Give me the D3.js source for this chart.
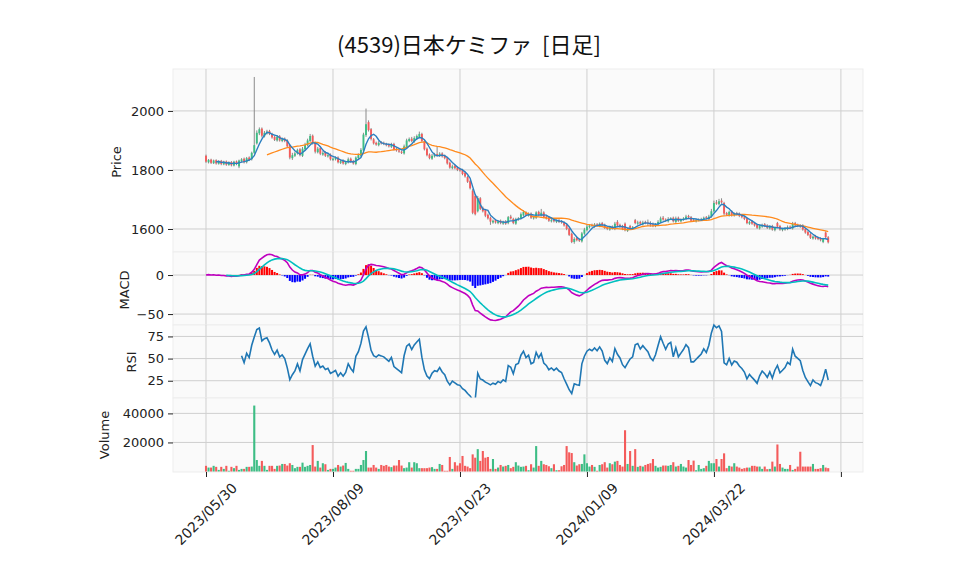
<!DOCTYPE html>
<html>
<head>
<meta charset="utf-8">
<script src="https://cdn.jsdelivr.net/npm/d3@7"></script>
<style>
body { margin: 0; background: #fff; }
text { font-family: "DejaVu Sans", sans-serif; }
</style>
</head>
<body>
<div id="chart"></div>
<script>
var title = "(4539)日本ケミファ  [日足]"
var tickIdx = [0, 50, 100, 150, 200, 250]
var tickLabels = ["2023/05/30", "2023/08/09", "2023/10/23", "2024/01/09", "2024/03/22", ""]

var opens = [
 1848,1826,1835,1823,1833,1821,1831,1819,1829,1817,
 1827,1815,1829,1812,1830,1838,1826,1842,1836,1858,
 1890,1924,1940,1914,1924,1932,1922,1912,1900,1914,
 1898,1906,1900,1884,1840,1848,1856,1870,1848,1870,
 1884,1898,1916,1892,1860,1874,1852,1860,1846,1852,
 1834,1836,1842,1824,1832,1820,1826,1838,1830,1820,
 1840,1848,1866,1918,1962,1938,1904,1892,1884,1894,
 1892,1888,1884,1878,1888,1870,1866,1862,1856,1878,
 1898,1906,1896,1906,1912,1922,1898,1872,1852,1838,
 1846,1854,1848,1856,1848,1840,1824,1806,1814,1808,
 1802,1800,1790,1776,1762,1730,1712,1660,1704,1672,
 1664,1648,1638,1622,1630,1620,1628,1618,1626,1620,
 1642,1634,1618,1632,1636,1646,1656,1646,1652,1636,
 1638,1658,1646,1656,1642,1638,1626,1632,1624,1630,
 1626,1622,1614,1602,1584,1556,1570,1564,1558,1584,
 1596,1606,1614,1608,1616,1610,1620,1614,1606,1598,
 1608,1600,1624,1614,1610,1618,1594,1610,1602,1630,
 1618,1624,1616,1624,1622,1620,1616,1610,1616,1624,
 1638,1632,1626,1634,1638,1624,1638,1626,1632,1634,
 1644,1640,1630,1626,1630,1632,1634,1640,1634,1642,
 1660,1690,1684,1696,1688,1654,1646,1660,1646,1654,
 1652,1646,1640,1636,1618,1626,1620,1614,1602,1608,
 1616,1612,1602,1610,1596,1620,1610,1596,1598,1600,
 1608,1602,1620,1614,1612,1612,1600,1590,1582,1568,
 1576,1570,1568,1556,1588,1572]

var highs = [
 1852,1837,1838,1835,1836,1833,1834,1831,1832,1829,
 1830,1831,1832,1835,1840,1842,1844,1846,1862,2115,
 1934,1944,1944,1932,1936,1936,1926,1916,1918,1918,
 1910,1910,1904,1888,1858,1862,1872,1874,1878,1892,
 1906,1922,1920,1896,1878,1878,1864,1864,1856,1856,
 1842,1846,1846,1834,1836,1830,1842,1842,1834,1846,
 1856,1874,1926,2008,1968,1942,1908,1896,1898,1898,
 1896,1892,1890,1892,1892,1876,1872,1866,1886,1906,
 1910,1912,1914,1920,1930,1926,1902,1876,1856,1854,
 1858,1880,1860,1860,1852,1844,1828,1818,1818,1812,
 1806,1804,1794,1780,1766,1736,1718,1712,1708,1676,
 1668,1652,1642,1632,1634,1630,1632,1628,1630,1644,
 1648,1638,1638,1640,1656,1664,1660,1656,1656,1644,
 1660,1662,1668,1660,1646,1642,1634,1636,1632,1634,
 1630,1626,1618,1606,1588,1572,1574,1568,1590,1604,
 1614,1616,1618,1620,1620,1622,1624,1618,1610,1610,
 1612,1624,1630,1618,1614,1622,1604,1614,1610,1634,
 1628,1628,1628,1628,1632,1626,1622,1620,1630,1642,
 1644,1636,1640,1640,1642,1642,1642,1636,1640,1648,
 1648,1644,1634,1634,1636,1638,1642,1644,1648,1668,
 1696,1698,1702,1704,1692,1658,1662,1664,1656,1658,
 1656,1650,1644,1640,1628,1630,1624,1618,1614,1618,
 1620,1616,1612,1614,1608,1624,1614,1604,1606,1612,
 1612,1624,1624,1618,1616,1616,1604,1594,1586,1578,
 1580,1574,1572,1570,1592,1576]

var lows = [
 1824,1822,1820,1820,1818,1818,1816,1816,1814,1814,
 1812,1812,1816,1806,1826,1822,1822,1830,1832,1854,
 1886,1918,1910,1910,1920,1918,1906,1898,1896,1896,
 1894,1894,1876,1836,1834,1844,1852,1846,1844,1866,
 1880,1894,1886,1856,1856,1850,1848,1844,1842,1832,
 1830,1832,1822,1820,1818,1816,1822,1824,1818,1816,
 1836,1844,1860,1912,1930,1900,1886,1882,1880,1886,
 1884,1880,1876,1874,1866,1862,1858,1854,1852,1874,
 1894,1894,1892,1902,1908,1894,1866,1846,1836,1834,
 1842,1846,1844,1842,1836,1818,1804,1802,1802,1796,
 1794,1782,1774,1756,1734,1650,1646,1656,1664,1656,
 1640,1632,1614,1618,1618,1616,1616,1614,1614,1616,
 1632,1616,1614,1628,1632,1642,1644,1642,1634,1632,
 1634,1644,1642,1636,1632,1624,1622,1622,1620,1620,
 1618,1608,1596,1576,1552,1550,1558,1556,1554,1580,
 1592,1602,1606,1604,1608,1606,1610,1600,1596,1594,
 1598,1596,1608,1604,1596,1592,1590,1600,1598,1616,
 1614,1614,1612,1616,1610,1608,1606,1606,1612,1620,
 1628,1624,1622,1630,1622,1620,1624,1622,1628,1630,
 1636,1624,1624,1622,1626,1628,1630,1632,1630,1638,
 1656,1682,1680,1686,1646,1644,1642,1642,1642,1646,
 1640,1636,1630,1616,1614,1614,1608,1600,1598,1604,
 1606,1600,1598,1594,1592,1604,1594,1592,1594,1596,
 1600,1598,1608,1606,1604,1594,1584,1576,1566,1564,
 1564,1562,1558,1552,1568,1551]

var closes = [
 1828,1834,1824,1832,1822,1830,1820,1828,1818,1826,
 1816,1828,1820,1832,1836,1826,1840,1834,1858,1884,
 1926,1938,1916,1926,1930,1922,1910,1902,1912,1900,
 1904,1898,1880,1842,1850,1856,1868,1850,1872,1885,
 1900,1915,1890,1862,1872,1855,1858,1848,1850,1836,
 1838,1840,1826,1830,1822,1826,1836,1828,1822,1842,
 1850,1868,1920,1955,1935,1905,1890,1886,1892,1890,
 1888,1884,1880,1886,1870,1866,1862,1858,1880,1900,
 1905,1898,1908,1915,1922,1898,1870,1850,1840,1848,
 1852,1850,1855,1846,1840,1822,1808,1812,1806,1800,
 1798,1786,1778,1760,1738,1655,1650,1705,1668,1660,
 1645,1636,1625,1628,1622,1626,1620,1624,1618,1640,
 1636,1620,1634,1636,1650,1658,1648,1652,1638,1640,
 1656,1648,1655,1640,1636,1628,1630,1626,1628,1624,
 1622,1612,1600,1580,1556,1566,1562,1560,1585,1598,
 1608,1612,1610,1615,1612,1618,1614,1604,1600,1606,
 1602,1618,1612,1608,1600,1596,1600,1604,1606,1620,
 1622,1618,1622,1620,1618,1614,1612,1616,1624,1636,
 1632,1628,1634,1636,1626,1636,1628,1632,1636,1642,
 1640,1628,1628,1630,1632,1634,1638,1636,1642,1660,
 1688,1686,1694,1690,1652,1648,1658,1646,1652,1650,
 1644,1640,1634,1620,1624,1618,1612,1604,1610,1614,
 1610,1604,1608,1598,1604,1608,1598,1600,1602,1606,
 1604,1618,1612,1610,1608,1598,1588,1580,1570,1574,
 1568,1566,1562,1566,1572,1555]

var volumes = [
 3900,2700,2700,3900,3200,1100,3200,1800,3900,500,
 3200,2300,3900,1100,1800,1800,3200,3200,3400,45400,
 7900,3900,7300,3900,1100,3900,3900,1800,3900,4100,
 5200,5200,4100,5700,4500,2300,3200,3200,6100,3200,
 3900,4500,18200,3400,7300,2700,5700,5000,1100,1800,
 1800,2700,4500,3400,4100,5900,1800,500,500,1800,
 1800,4500,7900,14100,2700,2700,4500,2700,1800,4500,
 3900,4500,3400,3000,4100,4100,7900,4100,2300,2700,
 6400,2700,6400,5700,2300,2300,2300,2300,2700,3000,
 1800,1800,5200,4500,500,500,10000,1800,6400,4100,
 5700,10700,3900,3400,2300,11800,9500,15400,7300,14100,
 9500,10000,1800,8600,1800,2700,4500,3400,3900,4500,
 2300,3200,6400,4100,3200,3400,3900,900,5000,2700,
 17500,3900,7300,5000,4500,3600,2300,5000,900,900,
 3600,4500,17500,13200,12700,6400,4100,5000,5200,11800,
 5700,3400,4500,3200,500,4500,5000,6400,2700,5700,
 5000,6800,7300,4500,3400,28400,5200,14100,3900,15400,
 3200,3900,3400,4500,5200,5700,8600,3900,2700,3200,
 4100,4100,3900,4500,6400,3400,3900,5200,3400,2700,
 7900,4500,7500,900,4500,1800,2300,3900,7300,5700,
 5700,8600,3400,8600,12500,2300,3900,3400,5700,3400,
 2700,1800,2300,2700,2700,3900,3900,3400,3400,1800,
 3400,1600,1800,6800,3400,18600,5200,2700,1800,1800,
 4500,1100,1800,3400,13600,3400,3400,3400,3400,5200,
 1800,1800,2300,4500,2700,2300]

// indicators, derived from the closes like the original chart does
function sma(arr, n) {
    return arr.map(function(v, i) { return i < n - 1 ? null : d3.mean(arr.slice(i - n + 1, i + 1)) })
}
function ema(arr, n) {
    var k = 2 / (n + 1), out = []
    arr.forEach(function(v, i) { out.push(i == 0 ? v : v * k + out[i - 1] * (1 - k)) })
    return out
}
// rsi: mean of the first n moves, then exponential smoothing (span n)
function rsi(arr, n) {
    var out = arr.map(function() { return null })
    var a = 2 / (n + 1), g = 0, l = 0
    for (var j = 1; j <= n; j++) {
        var d = arr[j] - arr[j - 1]
        if (d > 0) g += d; else l -= d
    }
    g /= n; l /= n
    out[n] = 100 * g / (g + l)
    for (var i = n + 1; i < arr.length; i++) {
        var d = arr[i] - arr[i - 1]
        g = (1 - a) * g + a * Math.max(d, 0)
        l = (1 - a) * l + a * Math.max(-d, 0)
        out[i] = 100 * g / (g + l)
    }
    return out
}

var ma5 = sma(closes, 5)
var ma25 = sma(closes, 25)
var e12 = ema(closes, 12), e26 = ema(closes, 26)
var macd = closes.map(function(c, i) { return e12[i] - e26[i] })
var sig = ema(macd, 9).map(function(v, i) { return i < 8 ? null : v })
var hist = macd.map(function(v, i) { return i < 8 ? null : v - sig[i] })
var rsi14 = rsi(closes, 14)

var width = 958, height = 575
var left = 173, right = 863
var upColor = "#3dbd85", downColor = "#f45b5b"

var svg = d3.select("#chart").append("svg").attr("width", width).attr("height", height)

var x = d3.scaleLinear().domain([-13, 258.7]).range([left, right])

var panels = [
    {name: "price", top: 69, bottom: 252, y: d3.scaleLinear().domain([1522, 2142]).range([252, 69]),
     ticks: [1600, 1800, 2000], label: "Price", lx: 116, ly: 162},
    {name: "macd", top: 252, bottom: 325, y: d3.scaleLinear().domain([-64, 29.5]).range([325, 252]),
     ticks: [-50, 0], label: "MACD", lx: 124, ly: 290},
    {name: "rsi", top: 325, bottom: 398, y: d3.scaleLinear().domain([5.5, 87.9]).range([398, 325]),
     ticks: [25, 50, 75], label: "RSI", lx: 131, ly: 362},
    {name: "vol", top: 398, bottom: 472, y: d3.scaleLinear().domain([0, 50600]).range([471.5, 398]),
     ticks: [20000, 40000], label: "Volume", lx: 104, ly: 435}
]

svg.append("text")
    .attr("x", 469).attr("y", 53)
    .attr("text-anchor", "middle")
    .style("font-family", '"Noto Sans CJK JP", sans-serif')
    .style("font-size", "22px")
    .style("white-space", "pre")
    .style("fill", "#111")
    .text(title)

panels.forEach(function(p) {
    var g = svg.append("g").attr("class", p.name)
    g.append("rect")
        .attr("x", left).attr("y", p.top)
        .attr("width", right - left).attr("height", p.bottom - p.top)
        .attr("fill", "#fafafa").attr("stroke", "#ededed").attr("stroke-width", 1)

    // grid
    g.selectAll("line.hgrid").data(p.ticks).enter().append("line")
        .attr("x1", left).attr("x2", right)
        .attr("y1", function(d) { return p.y(d) }).attr("y2", function(d) { return p.y(d) })
        .attr("stroke", "#cfcfcf").attr("stroke-width", 1)
    g.selectAll("line.vgrid").data(tickIdx).enter().append("line")
        .attr("x1", function(d) { return x(d) }).attr("x2", function(d) { return x(d) })
        .attr("y1", p.top).attr("y2", p.bottom)
        .attr("stroke", "#cfcfcf").attr("stroke-width", 1)

    var axis = d3.axisLeft(p.y).tickValues(p.ticks).tickSize(5).tickPadding(4)
    if (p.name != "macd") axis.tickFormat(d3.format("d"))
    var ax = g.append("g").attr("transform", "translate(" + left + ",0)").call(axis)
    ax.select(".domain").remove()
    ax.selectAll("text").style("font-size", "13px").style("fill", "#222")
    ax.selectAll("line").attr("stroke", "#222")

    g.append("text")
        .attr("transform", "translate(" + p.lx + "," + p.ly + ") rotate(-90)")
        .attr("text-anchor", "middle").attr("dy", "0.35em")
        .style("font-size", "13px").style("fill", "#222")
        .text(p.label)
})

var idx = d3.range(closes.length)

// price panel
var py = panels[0].y
var pg = svg.select("g.price")
pg.selectAll("line.wick").data(idx).enter().append("line")
    .attr("x1", function(i) { return x(i) }).attr("x2", function(i) { return x(i) })
    .attr("y1", function(i) { return py(highs[i]) }).attr("y2", function(i) { return py(lows[i]) })
    .attr("stroke", "#8a8a8a").attr("stroke-width", 1)
pg.selectAll("rect.body").data(idx).enter().append("rect")
    .attr("x", function(i) { return x(i) - 0.95 }).attr("width", 1.9)
    .attr("y", function(i) { return py(Math.max(opens[i], closes[i])) })
    .attr("height", function(i) { return Math.max(0.8, Math.abs(py(opens[i]) - py(closes[i]))) })
    .attr("fill", function(i) { return closes[i] >= opens[i] ? upColor : downColor })

var line = function(ys) {
    return d3.line()
        .defined(function(d) { return d != null })
        .x(function(d, i) { return x(i) })
        .y(function(d) { return ys(d) })
}
pg.append("path").datum(ma25).attr("d", line(py))
    .attr("fill", "none").attr("stroke", "#ff8a1c").attr("stroke-width", 1.3)
pg.append("path").datum(ma5).attr("d", line(py))
    .attr("fill", "none").attr("stroke", "#2b7fc0").attr("stroke-width", 1.4)

// macd panel
var my = panels[1].y
var mg = svg.select("g.macd")
mg.selectAll("rect.hist").data(idx.filter(function(i) { return hist[i] != null })).enter().append("rect")
    .attr("x", function(i) { return x(i) - 1 }).attr("width", 2)
    .attr("y", function(i) { return my(Math.max(0, hist[i])) })
    .attr("height", function(i) { return Math.abs(my(hist[i]) - my(0)) })
    .attr("fill", function(i) { return hist[i] >= 0 ? "#ff0000" : "#0000ff" })
mg.append("path").datum(macd).attr("d", line(my))
    .attr("fill", "none").attr("stroke", "#bf00bf").attr("stroke-width", 1.6)
mg.append("path").datum(sig).attr("d", line(my))
    .attr("fill", "none").attr("stroke", "#00bfbf").attr("stroke-width", 1.6)

// rsi panel
var ry = panels[2].y
svg.select("g.rsi").append("path").datum(rsi14).attr("d", line(ry))
    .attr("fill", "none").attr("stroke", "#1f77b4").attr("stroke-width", 1.6)

// volume panel
var vy = panels[3].y
svg.select("g.vol").selectAll("rect.vbar").data(idx).enter().append("rect")
    .attr("x", function(i) { return x(i) - 1.05 }).attr("width", 2.1)
    .attr("y", function(i) { return vy(volumes[i]) })
    .attr("height", function(i) { return vy(0) - vy(volumes[i]) })
    .attr("fill", function(i) { return closes[i] >= opens[i] ? upColor : downColor })

// x axis
var xa = svg.append("g").attr("transform", "translate(0,472)")
    .call(d3.axisBottom(x).tickValues(tickIdx).tickSize(5).tickFormat(""))
xa.select(".domain").remove()
xa.selectAll("line").attr("stroke", "#222")
svg.selectAll("text.xlab").data(tickIdx).enter().append("text")
    .attr("transform", function(d) { return "translate(" + x(d) + ",514) rotate(-45)" })
    .attr("text-anchor", "middle").attr("dy", "0.35em")
    .style("font-size", "14px").style("fill", "#222")
    .text(function(d, i) { return tickLabels[i] })
</script>
</body>
</html>
